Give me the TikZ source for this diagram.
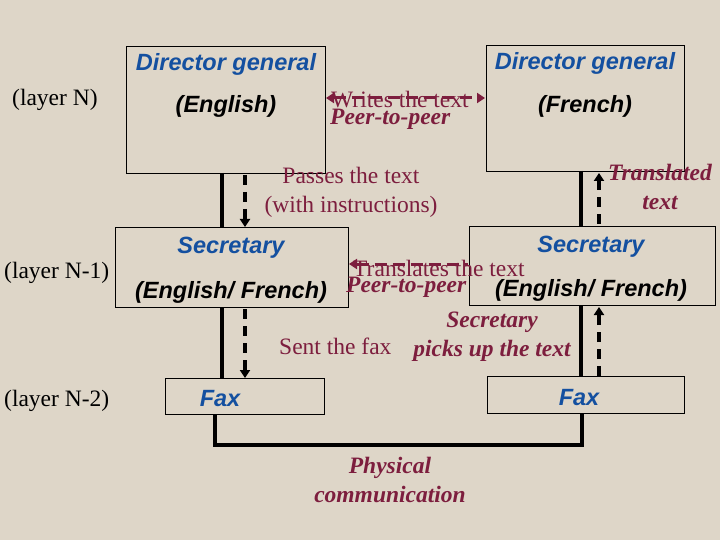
\documentclass[tikz,border=0pt]{standalone}
\usepackage{fontspec}
\setmainfont{Liberation Serif}
\newfontfamily\arialf{Liberation Sans}
\usetikzlibrary{arrows.meta}
\definecolor{bg}{RGB}{222,214,200}
\definecolor{tblue}{RGB}{20,80,160}
\definecolor{maroon}{RGB}{125,30,62}
\tikzset{
 box/.style={draw=black,line width=0.8pt},
 ttl/.style={font=\arialf\bfseries\itshape\fontsize{23.5}{27}\selectfont,text=tblue,inner sep=0,yshift=-2pt},
 sub/.style={font=\arialf\bfseries\itshape\fontsize{23.5}{27}\selectfont,text=black,inner sep=0,yshift=-2pt},
 lay/.style={font=\fontsize{23.5}{27}\selectfont,inner sep=0,anchor=west,yshift=-2pt},
 lab/.style={font=\fontsize{23.5}{29}\selectfont,text=maroon,inner sep=0,align=center,yshift=-3pt},
 blab/.style={font=\bfseries\itshape\fontsize{23.5}{29}\selectfont,text=maroon,inner sep=0,align=center,yshift=-3pt},
 solid line/.style={line width=3.5pt},
 dash line/.style={line width=3.2pt,dash pattern=on 10pt off 7pt,-{Triangle[length=8pt,width=10pt]}},
 peer/.style={line width=3pt,draw=maroon,dash pattern=on 12pt off 6pt,{Triangle[length=8pt,width=10pt]}-{Triangle[length=8pt,width=10pt]}},
}
\begin{document}
\begin{tikzpicture}[x=1pt,y=-1pt]
\fill[bg] (0,0) rectangle (720,540);
\useasboundingbox (0,0) rectangle (720,540);
% boxes
\node[box,minimum width=199pt,minimum height=127pt,inner sep=0] (dgE) at (225.5,109.5) {};
\node[box,minimum width=198pt,minimum height=126pt,inner sep=0] (dgF) at (585,108) {};
\node[box,minimum width=233pt,minimum height=80pt,inner sep=0] (secE) at (231.5,267) {};
\node[box,minimum width=246pt,minimum height=79pt,inner sep=0] (secF) at (592,265.5) {};
\node[box,minimum width=159pt,minimum height=36pt,inner sep=0] (faxE) at (244.5,396) {};
\node[box,minimum width=197pt,minimum height=37pt,inner sep=0] (faxF) at (585.5,394.5) {};
% box texts
\node[ttl] (t1) at (226,62) {Director general};
\node[sub] (t2) at (226,104) {(English)};
\node[ttl] (t3) at (585,61) {Director general};
\node[sub] (t4) at (585,104) {(French)};
\node[ttl] (t5) at (231,246) {Secretary};
\node[sub] (t6) at (231,290) {(English/ French)};
\node[ttl] (t7) at (591,245) {Secretary};
\node[sub] (t8) at (591,288) {(English/ French)};
\node[ttl] (t9) at (220,397) {Fax};
\node[ttl] (t10) at (579,396) {Fax};
% layer labels
\node[lay] (l1) at (12,98) {(layer N)};
\node[lay] (l2) at (4,271) {(layer N-1)};
\node[lay] (l3) at (4,399) {(layer N-2)};
% vertical solid lines
\coordinate (a1) at (222,173); \coordinate (a2) at (222,227);
\coordinate (a3) at (222,307); \coordinate (a4) at (222,378);
\coordinate (b1) at (581,171); \coordinate (b2) at (581,226);
\coordinate (b3) at (581,305); \coordinate (b4) at (581,376);
\draw[solid line] (a1) -- (a2);
\draw[solid line] (a3) -- (a4);
\draw[solid line] (b1) -- (b2);
\draw[solid line] (b3) -- (b4);
\coordinate (c1) at (215,414); \coordinate (c2) at (215,445);
\coordinate (c3) at (582,445); \coordinate (c4) at (582,413);
\draw[solid line,line join=miter] (c1) -- (c2) -- (c3) -- (c4);
% dashed arrows
\coordinate (d1) at (245,175); \coordinate (d2) at (245,227);
\coordinate (d3) at (245,309); \coordinate (d4) at (245,378);
\coordinate (e1) at (599,224); \coordinate (e2) at (599,173);
\coordinate (e3) at (599,376); \coordinate (e4) at (599,307);
\draw[dash line] (d1) -- (d2);
\draw[dash line] (d3) -- (d4);
\draw[dash line] (e1) -- (e2);
\draw[dash line] (e3) -- (e4);
% peer arrows
\coordinate (p1) at (326,98); \coordinate (p2) at (485,98);
\draw[peer] (p1) -- (p2);
\coordinate (q1) at (349,264); \coordinate (q2) at (468,264);
\draw[peer,{Triangle[length=8pt,width=10pt]}-] (q1) -- (q2);
% labels
\node[lab,anchor=west] (w1) at (331,97) {Writes the text};
\node[blab,anchor=west] (w2) at (330,116) {Peer-to-peer};
\node[lab] (w3) at (351,189) {Passes the text\\(with instructions)};
\node[blab] (w4) at (660,184) {Translated\\text};
\node[lab,anchor=west] (w5) at (353,265) {Translates the text};
\node[blab,anchor=west] (w6) at (346,284) {Peer-to-peer};
\node[lab,anchor=west] (w7) at (279,343) {Sent the fax};
\node[blab] (w8) at (492,334) {Secretary\\picks up the text};
\node[blab] (w9) at (390,477) {Physical\\communication};
\end{tikzpicture}
\end{document}
